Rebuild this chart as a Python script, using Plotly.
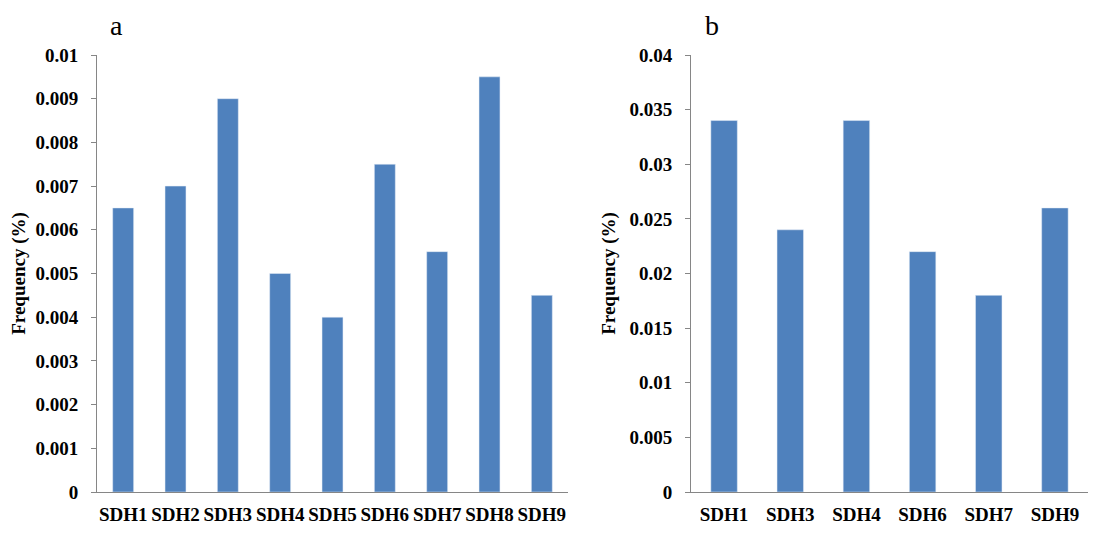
import plotly.graph_objects as go

cats_a = ["SDH1", "SDH2", "SDH3", "SDH4", "SDH5", "SDH6", "SDH7", "SDH8", "SDH9"]
vals_a = [0.0065, 0.007, 0.009, 0.005, 0.004, 0.0075, 0.0055, 0.0095, 0.0045]
cats_b = ["SDH1", "SDH3", "SDH4", "SDH6", "SDH7", "SDH9"]
vals_b = [0.034, 0.024, 0.034, 0.022, 0.018, 0.026]
ticks_a = [0, 0.001, 0.002, 0.003, 0.004, 0.005, 0.006, 0.007, 0.008, 0.009, 0.01]
ticktext_a = ["0", "0.001", "0.002", "0.003", "0.004", "0.005", "0.006", "0.007", "0.008", "0.009", "0.01"]
ticks_b = [0, 0.005, 0.01, 0.015, 0.02, 0.025, 0.03, 0.035, 0.04]
ticktext_b = ["0", "0.005", "0.01", "0.015", "0.02", "0.025", "0.03", "0.035", "0.04"]

BAR = "#4F81BD"
AXC = "#868686"
W, H = 1080, 518   # page body has an 8px margin
OFF = 8


def px_x(p):
    return min((p - OFF) / W, 1.0)


def px_y(p):
    return 1 - (p - OFF) / H


fig = go.Figure()
fig.add_trace(go.Bar(x=cats_a, y=vals_a, marker=dict(color=BAR), xaxis="x", yaxis="y", showlegend=False))
fig.add_trace(go.Bar(x=cats_b, y=vals_b, marker=dict(color=BAR), xaxis="x2", yaxis="y2", showlegend=False))

ydom = [px_y(492), px_y(55)]
common_x = dict(showline=True, linecolor=AXC, linewidth=1, ticks="", showgrid=False, automargin=False,
                tickangle=0,
                tickfont=dict(family="Liberation Serif", size=19, color="black", weight="bold"),
                ticklabelstandoff=5, fixedrange=True)
common_y = dict(showline=True, linecolor=AXC, linewidth=1, ticks="outside", ticklen=5, tickcolor=AXC,
                showgrid=False, zeroline=False, automargin=False,
                tickfont=dict(family="Liberation Serif", size=19, color="black", weight="bold"),
                ticklabelstandoff=9,
                title=dict(text="<b>Frequency (%)</b>", font=dict(family="Liberation Serif", size=19, color="black"), standoff=8))

fig.update_layout(
    width=W, height=H,
    margin=dict(l=0, r=0, t=0, b=0),
    paper_bgcolor="white", plot_bgcolor="white",
    bargap=0.6,
    font=dict(family="Liberation Serif", size=19, color="black"),
    xaxis=dict(domain=[px_x(97), px_x(568)], anchor="y", **common_x),
    yaxis=dict(domain=ydom, anchor="x", range=[0, 0.01], tickvals=ticks_a, ticktext=ticktext_a, **common_y),
    xaxis2=dict(domain=[px_x(691), px_x(1095)], anchor="y2", **common_x),
    yaxis2=dict(domain=ydom, anchor="x2", range=[0, 0.04], tickvals=ticks_b, ticktext=ticktext_b, **common_y),
    annotations=[
        dict(text="a", x=px_x(116), y=px_y(25), xref="paper", yref="paper", showarrow=False,
             xanchor="center", yanchor="middle",
             font=dict(family="Liberation Serif", size=28, color="black")),
        dict(text="b", x=px_x(712), y=px_y(25), xref="paper", yref="paper", showarrow=False,
             xanchor="center", yanchor="middle",
             font=dict(family="Liberation Serif", size=28, color="black")),
    ],
)

fig.write_html("out.html")
